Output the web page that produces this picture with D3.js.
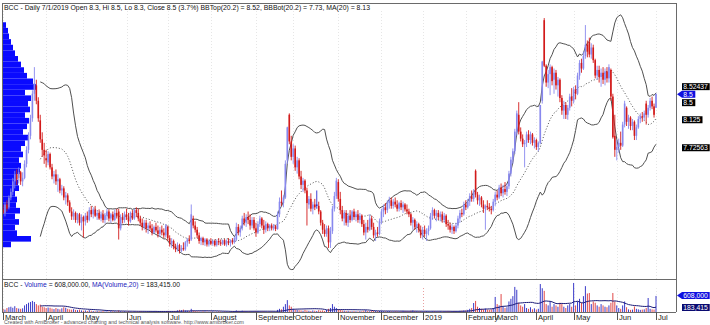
<!DOCTYPE html>
<html><head><meta charset="utf-8">
<script src="https://cdn.jsdelivr.net/npm/d3@7"></script>
<style>
body{margin:0;background:#fff}
svg{display:block}
text{font-family:Arial,"Liberation Sans",sans-serif}
</style>
</head><body>
<svg id="chart" width="710" height="325"></svg>
<script>
// ---------------- DATA ----------------
const openP = [6.85,6.80,6.92,6.88,7.02,7.10,7.25,7.35,7.30,7.38,7.25,7.30,7.50,7.70,7.90,8.15,8.50,8.62,8.40,8.12,
7.85,7.70,7.58,7.52,7.64,7.45,7.32,7.35,7.25,7.28,7.12,7.15,7.02,7.05,6.95,6.82,6.75,6.80,6.70,6.78,
6.66,6.74,6.68,6.76,6.70,6.84,6.78,6.85,6.76,6.80,6.72,6.78,6.70,6.76,6.82,6.72,6.78,6.70,6.80,6.82,
6.58,6.74,6.70,6.78,6.74,6.68,6.80,6.72,6.84,6.80,6.72,6.66,6.60,6.66,6.58,6.62,6.58,6.52,6.60,6.55,
6.50,6.56,6.52,6.48,6.60,6.44,6.36,6.40,6.32,6.28,6.34,6.26,6.30,6.28,6.38,6.42,6.42,6.72,6.62,6.56,
6.48,6.40,6.44,6.38,6.42,6.35,6.40,6.36,6.40,6.34,6.40,6.38,6.36,6.41,6.35,6.40,6.37,6.41,6.38,6.42,
6.60,6.52,6.58,6.72,6.66,6.74,6.70,6.62,6.70,6.58,6.52,6.64,6.72,6.62,6.56,6.64,6.58,6.62,6.58,6.61,
6.57,6.78,6.96,6.94,7.02,7.55,8.20,7.82,7.60,7.72,7.45,7.55,7.32,7.20,7.26,7.12,6.92,7.00,6.86,6.92,
6.92,6.90,6.82,6.66,6.56,6.50,6.58,6.38,6.54,6.86,7.04,7.24,7.00,6.84,6.72,6.80,6.66,6.76,6.70,6.82,
6.74,6.78,6.70,6.76,6.64,6.52,6.60,6.56,6.72,6.60,6.48,6.52,6.50,6.68,6.82,6.88,6.84,6.94,6.98,6.90,
6.96,6.92,6.86,6.94,6.88,6.92,6.85,6.82,6.78,6.66,6.70,6.60,6.64,6.56,6.48,6.56,6.50,6.54,6.58,6.76,
6.84,6.76,6.80,6.74,6.78,6.70,6.76,6.64,6.62,6.56,6.60,6.54,6.62,6.72,6.80,6.78,6.92,6.88,6.96,7.04,
7.00,7.40,7.06,6.98,7.02,6.92,6.86,6.90,6.88,6.86,6.84,6.96,7.06,7.02,7.16,7.08,7.14,7.10,7.18,7.36,
7.56,7.68,7.96,8.20,7.96,7.86,7.78,7.80,7.92,7.84,7.92,7.80,7.84,7.74,7.80,8.40,9.55,8.90,8.66,8.78,
8.88,8.70,8.80,8.62,8.70,8.44,8.26,8.34,8.20,8.30,8.46,8.40,8.56,8.50,8.76,8.94,8.86,9.04,9.20,9.24,
9.06,9.16,8.98,8.76,8.84,8.74,8.80,8.70,8.82,8.72,8.84,8.46,7.90,7.70,7.74,7.80,7.76,8.06,8.30,8.10,
8.16,8.04,8.10,7.90,8.02,8.14,8.18,8.16,8.36,8.20,8.30,8.40,8.32,8.30];
const highP = [6.92,6.95,6.98,7.05,7.15,7.30,7.40,7.42,7.45,7.40,7.38,7.55,7.75,7.95,8.20,8.55,8.88,8.70,8.45,8.20,
7.95,7.80,7.70,7.68,7.66,7.50,7.40,7.42,7.35,7.30,7.20,7.18,7.10,7.08,6.98,6.88,6.85,6.82,6.80,6.80,
6.78,6.76,6.80,6.82,6.88,6.90,6.88,6.90,6.84,6.85,6.82,6.84,6.80,6.86,6.85,6.80,6.82,6.85,6.86,6.86,
6.78,6.80,6.82,6.86,6.80,6.82,6.84,6.86,6.88,6.86,6.76,6.72,6.70,6.70,6.66,6.68,6.64,6.62,6.66,6.62,
6.60,6.62,6.58,6.64,6.62,6.48,6.44,6.42,6.36,6.38,6.36,6.34,6.38,6.40,6.44,6.48,6.92,6.76,6.68,6.60,
6.52,6.46,6.46,6.44,6.44,6.42,6.44,6.42,6.42,6.42,6.44,6.42,6.42,6.43,6.42,6.44,6.42,6.44,6.46,6.66,
6.64,6.62,6.76,6.80,6.78,6.82,6.78,6.74,6.74,6.66,6.68,6.76,6.74,6.70,6.68,6.66,6.64,6.65,6.64,6.63,
6.82,7.02,7.12,7.05,7.55,8.03,8.22,7.90,7.78,7.76,7.60,7.58,7.40,7.30,7.28,7.16,7.04,7.08,6.96,7.00,
7.12,6.96,6.84,6.70,6.64,6.62,6.62,6.60,6.90,7.10,7.30,7.28,7.10,6.90,6.84,6.84,6.80,6.84,6.84,6.86,
6.82,6.84,6.80,6.78,6.70,6.66,6.70,6.78,6.76,6.66,6.56,6.60,6.72,6.86,6.92,6.94,6.98,7.03,7.02,7.00,
7.02,6.98,6.96,6.98,6.96,6.94,6.92,6.86,6.80,6.74,6.72,6.68,6.66,6.62,6.60,6.62,6.58,6.62,6.80,6.88,
6.86,6.84,6.84,6.82,6.82,6.80,6.78,6.70,6.66,6.64,6.62,6.66,6.76,6.84,6.86,6.96,6.98,7.00,7.08,7.12,
7.14,7.42,7.10,7.06,7.04,6.98,6.92,6.98,6.94,6.90,7.00,7.10,7.12,7.20,7.22,7.20,7.24,7.22,7.40,7.60,
7.72,8.00,8.26,8.38,8.02,7.92,7.84,7.96,7.98,7.96,7.94,7.88,7.86,7.82,8.34,8.97,9.58,8.92,8.84,8.92,
8.90,8.86,8.84,8.74,8.72,8.48,8.40,8.38,8.34,8.50,8.58,8.60,8.62,8.80,8.98,9.00,9.10,9.48,9.26,9.30,
9.22,9.20,9.00,8.90,8.90,8.86,8.88,8.86,8.88,8.92,8.86,8.50,8.20,7.84,7.86,7.96,8.10,8.40,8.32,8.20,
8.18,8.14,8.12,8.06,8.18,8.22,8.24,8.26,8.40,8.34,8.44,8.46,8.36,8.50];
const lowP = [6.78,6.75,6.82,6.85,6.98,7.05,7.15,7.20,7.22,7.20,7.18,7.28,7.45,7.65,7.85,8.10,8.40,8.35,8.10,7.80,
7.60,7.50,7.45,7.48,7.42,7.28,7.22,7.20,7.10,7.08,7.05,6.98,6.92,6.90,6.80,6.70,6.70,6.66,6.65,6.62,
6.55,6.45,6.62,6.66,6.68,6.74,6.72,6.74,6.70,6.70,6.68,6.66,6.65,6.70,6.68,6.66,6.68,6.68,6.72,6.42,
6.55,6.65,6.66,6.70,6.62,6.66,6.70,6.70,6.74,6.68,6.62,6.55,6.56,6.52,6.50,6.55,6.48,6.50,6.52,6.45,
6.46,6.48,6.44,6.45,6.40,6.32,6.30,6.28,6.24,6.25,6.22,6.24,6.26,6.26,6.32,6.36,6.40,6.58,6.52,6.44,
6.36,6.34,6.34,6.33,6.32,6.32,6.34,6.33,6.32,6.32,6.34,6.33,6.34,6.33,6.32,6.34,6.32,6.35,6.36,6.40,
6.48,6.46,6.55,6.62,6.60,6.64,6.56,6.58,6.55,6.46,6.50,6.60,6.58,6.50,6.52,6.54,6.54,6.55,6.55,6.54,
6.56,6.74,6.90,6.88,7.00,7.50,7.78,7.55,7.50,7.40,7.36,7.28,7.14,7.10,7.08,6.62,6.86,6.82,6.78,6.84,
6.86,6.78,6.62,6.50,6.46,6.46,6.30,6.30,6.50,6.82,7.00,6.96,6.78,6.68,6.62,6.62,6.60,6.66,6.68,6.70,
6.68,6.66,6.65,6.60,6.48,6.42,6.52,6.54,6.56,6.44,6.40,6.46,6.48,6.64,6.74,6.78,6.80,6.86,6.86,6.86,
6.88,6.82,6.82,6.84,6.80,6.82,6.78,6.74,6.62,6.56,6.56,6.52,6.52,6.44,6.42,6.46,6.40,6.48,6.56,6.70,
6.72,6.68,6.70,6.68,6.66,6.66,6.60,6.56,6.52,6.50,6.50,6.52,6.58,6.66,6.74,6.76,6.84,6.86,6.90,6.96,
6.96,7.02,6.92,6.90,6.88,6.80,6.56,6.84,6.82,6.78,6.82,6.90,6.98,7.00,7.04,7.02,7.06,7.04,7.14,7.32,
7.50,7.64,7.90,7.92,7.82,7.74,7.45,7.74,7.80,7.78,7.76,7.72,7.70,7.68,7.78,8.36,8.88,8.60,8.58,8.48,
8.62,8.50,8.56,8.46,8.38,8.20,8.14,8.14,8.13,8.26,8.32,8.36,8.42,8.48,8.70,8.80,8.84,9.00,9.02,9.02,
9.00,8.94,8.72,8.70,8.66,8.60,8.64,8.62,8.66,8.66,8.40,7.86,7.60,7.55,7.66,7.70,7.74,8.02,8.04,8.00,
7.98,7.98,7.84,7.84,8.00,8.08,8.10,8.12,8.06,8.16,8.26,8.28,8.16,8.30];
const closeP = [6.80,6.92,6.86,7.02,7.10,7.25,7.35,7.28,7.38,7.25,7.30,7.50,7.70,7.90,8.15,8.50,8.65,8.40,8.15,7.85,
7.70,7.62,7.55,7.64,7.45,7.32,7.35,7.25,7.28,7.12,7.15,7.02,7.05,6.95,6.82,6.75,6.80,6.70,6.78,6.66,
6.74,6.68,6.76,6.70,6.84,6.78,6.85,6.76,6.80,6.72,6.78,6.70,6.76,6.82,6.72,6.78,6.70,6.80,6.76,6.58,
6.74,6.70,6.78,6.74,6.68,6.80,6.72,6.84,6.80,6.72,6.66,6.60,6.66,6.58,6.62,6.58,6.52,6.60,6.55,6.50,
6.56,6.52,6.48,6.62,6.44,6.36,6.40,6.32,6.28,6.34,6.26,6.30,6.28,6.38,6.42,6.40,6.78,6.62,6.56,6.48,
6.40,6.44,6.38,6.42,6.35,6.40,6.36,6.40,6.34,6.40,6.38,6.36,6.41,6.35,6.40,6.37,6.41,6.38,6.44,6.60,
6.52,6.58,6.72,6.66,6.74,6.70,6.62,6.70,6.58,6.52,6.64,6.72,6.62,6.56,6.64,6.58,6.62,6.58,6.61,6.57,
6.78,6.96,6.94,7.02,7.50,8.02,7.82,7.60,7.72,7.45,7.55,7.32,7.20,7.26,7.12,6.94,7.00,6.86,6.92,6.88,
6.90,6.82,6.66,6.56,6.50,6.58,6.38,6.54,6.86,7.04,7.26,7.00,6.84,6.72,6.80,6.66,6.76,6.70,6.82,6.74,
6.78,6.70,6.76,6.64,6.52,6.60,6.56,6.72,6.60,6.48,6.52,6.50,6.68,6.82,6.88,6.84,6.94,6.98,6.90,6.96,
6.92,6.86,6.94,6.88,6.92,6.85,6.82,6.78,6.66,6.70,6.60,6.64,6.56,6.48,6.56,6.50,6.54,6.58,6.76,6.84,
6.76,6.80,6.74,6.78,6.70,6.76,6.64,6.62,6.56,6.60,6.54,6.62,6.72,6.80,6.78,6.92,6.88,6.96,7.04,7.00,
7.10,7.06,6.98,7.02,6.92,6.86,6.90,6.88,6.86,6.84,6.96,7.06,7.02,7.16,7.08,7.14,7.10,7.18,7.36,7.56,
7.68,7.96,8.22,7.96,7.86,7.78,7.80,7.92,7.84,7.92,7.80,7.84,7.74,7.80,8.34,8.96,8.90,8.66,8.78,8.88,
8.68,8.80,8.62,8.70,8.44,8.26,8.34,8.20,8.30,8.46,8.40,8.56,8.50,8.76,8.94,8.86,9.04,9.20,9.10,9.06,
9.16,8.98,8.76,8.84,8.74,8.80,8.70,8.82,8.72,8.88,8.46,7.88,7.70,7.74,7.80,7.76,8.06,8.36,8.10,8.16,
8.04,8.10,7.90,8.02,8.14,8.18,8.16,8.22,8.20,8.30,8.40,8.32,8.20,8.50];
// volume in thousands of shares
const volumeK = [120,90,150,180,200,160,220,150,130,120,140,250,300,350,380,420,380,300,250,280,
200,180,150,170,160,130,110,150,120,100,140,180,160,120,100,90,110,80,70,90,
60,50,60,40,70,50,40,30,45,35,30,40,25,30,20,35,30,25,20,60,
30,20,25,15,30,20,15,25,20,15,30,25,20,15,20,25,15,20,30,20,
15,25,20,15,40,30,20,25,30,60,80,70,90,60,50,40,120,60,40,30,
25,20,30,25,20,15,20,25,15,20,30,20,15,25,20,15,20,25,30,60,
40,30,50,40,30,25,30,20,25,35,30,20,25,30,20,15,20,25,20,15,
80,120,100,200,300,450,250,200,120,90,80,70,60,50,80,60,50,40,60,50,
40,70,50,60,40,80,120,150,300,200,150,100,80,60,50,40,45,35,30,40,
30,25,35,30,50,70,40,30,60,40,35,30,40,45,30,25,30,35,25,20,
30,25,20,30,40,35,30,25,50,60,40,30,25,30,20,25,30,20,15,25,
30,20,25,30,20,25,30,35,30,25,40,35,30,45,50,60,60,80,120,150,
340,420,200,150,120,100,130,90,80,100,150,570,300,250,680,200,150,180,400,500,
600,950,840,350,250,200,300,150,120,180,100,140,90,120,1060,900,800,300,250,400,
200,300,250,200,350,300,200,150,250,300,200,1100,250,400,500,350,600,980,700,720,
300,400,350,250,200,300,250,200,180,250,350,720,400,250,150,120,250,400,180,100,
80,90,210,120,100,80,90,100,150,530,120,100,90,608];
// month axis
const monthLabels = ["March","April","May","Jun","Jul","August","September","October","November","December","2019","February","March","April","May","Jun","Jul"];
const monthIndex = [0,22,41,63,84,106,129,148,171,193,214,236,251,272,291,313,333];
// volume-at-price overlay (relative volume per price row, top row = highest price)
const vapVolume = [3,5,6,8,10,12,15,18,21,24,30,33,22,28,25,27,22,26,24,20,
25,22,18,20,16,18,17,14,15,16,12,14,13,17,12,16,12,14,28,8];
const vapRange = [9.52, 6.31];
// right-axis value labels (shift = offset applied to avoid overlaps, as the original does)
const priceLabels = [
  {text:"8.52437", value:8.52437, shift:-5.4, color:"#000"},
  {text:"8.5", value:8.5, shift:0.5, color:"#1010e0", arrow:true},
  {text:"8.5", value:8.5, shift:8.9, color:"#000"},
  {text:"8.125", value:8.125, shift:-0.3, color:"#000"},
  {text:"7.72563", value:7.72563, shift:-0.3, color:"#000"}
];
const volLabels = [
  {text:"608,000", value:608, color:"#1010e0", arrow:true},
  {text:"183,415", value:183.415, color:"#0a0a70"}
];
const titleMain = "BCC - Daily 7/1/2019 Open 8.3, Hi 8.5, Lo 8.3, Close 8.5 (3.7%) BBTop(20.2) = 8.52, BBBot(20.2) = 7.73, MA(20) = 8.13";
const footer = "Created with AmiBroker - advanced charting and technical analysis software. http://www.amibroker.com";

// ---------------- LAYOUT ----------------
const svg = d3.select("#chart");
const L = 2, R = 676, T = 3, MB = 279, VB = 312;
const N = closeP.length;
const x = d3.scaleLinear().domain([0, N - 1]).range([3, 656]);
const y = d3.scaleLinear().domain([5.857, 9.795]).range([MB, T]);
const yv = d3.scaleLinear().domain([0, 1250]).range([VB, MB]);

// indicators
function sma(a, n) { return a.map((_, i) => i < n - 1 ? null : d3.mean(a.slice(i - n + 1, i + 1))); }
function sdp(a, n) { return a.map((_, i) => { if (i < n - 1) return null; const s = a.slice(i - n + 1, i + 1); const m = d3.mean(s); return Math.sqrt(d3.mean(s, v => (v - m) * (v - m))); }); }
const ma = sma(closeP, 20), sd = sdp(closeP, 20);
const bbTop = ma.map((m, i) => m == null ? null : m + 2 * sd[i]);
const bbBot = ma.map((m, i) => m == null ? null : m - 2 * sd[i]);
const vma = sma(volumeK, 20);
const idx = d3.range(N);

svg.append("rect").attr("width", 710).attr("height", 325).attr("fill", "#fff");

// grid lines at month starts
const grid = svg.append("g");
monthIndex.forEach((mi, k) => {
  const gx = Math.round(x(mi)) + 0.5;
  grid.append("line").attr("x1", gx).attr("x2", gx).attr("y1", T + 8).attr("y2", MB)
    .attr("stroke", "#e6e6e6").attr("stroke-dasharray", "1,2");
  grid.append("line").attr("x1", gx).attr("x2", gx).attr("y1", MB + 9).attr("y2", VB)
    .attr("stroke", monthLabels[k] === "2019" ? "#e8a0a0" : "#eaeaea").attr("stroke-dasharray", "1,2");
});

// volume at price overlay
const vapBins = vapVolume.length;
const vapStep = (vapRange[0] - vapRange[1]) / vapBins;
const wv = d3.scaleLinear().domain([0, d3.max(vapVolume)]).range([0, 33]);
svg.append("g").selectAll("rect").data(vapVolume).join("rect")
  .attr("x", 3)
  .attr("y", (d, i) => y(vapRange[0] - i * vapStep))
  .attr("width", d => wv(d))
  .attr("height", (d, i) => y(vapRange[0] - (i + 1) * vapStep) - y(vapRange[0] - i * vapStep))
  .attr("fill", "#0a0aff");

// bands and MA
const line = d3.line().defined(d => d[1] != null).x(d => x(d[0])).y(d => y(d[1]));
svg.append("path").attr("d", line(bbTop.map((v, i) => [i, v]))).attr("fill", "none").attr("stroke", "#505050").attr("stroke-width", 1);
svg.append("path").attr("d", line(bbBot.map((v, i) => [i, v]))).attr("fill", "none").attr("stroke", "#505050").attr("stroke-width", 1);
svg.append("path").attr("d", line(ma.map((v, i) => [i, v]))).attr("fill", "none").attr("stroke", "#505050").attr("stroke-width", 1).attr("stroke-dasharray", "1,2");

// candles: hue by close vs previous close, hollow (light) when close >= open
const isUp = i => i === 0 ? closeP[i] >= openP[i] : closeP[i] >= closeP[i - 1];
const hollow = i => closeP[i] >= openP[i];
const cColor = i => isUp(i) ? (hollow(i) ? "#8888ee" : "#2a2ad0") : (hollow(i) ? "#f09a9a" : "#d21a1a");
const cg = svg.append("g");
cg.selectAll("line").data(idx).join("line")
  .attr("x1", i => x(i)).attr("x2", i => x(i))
  .attr("y1", i => y(highP[i])).attr("y2", i => y(lowP[i]))
  .attr("stroke", cColor).attr("stroke-width", 0.9);
cg.selectAll("rect").data(idx).join("rect")
  .attr("x", i => x(i) - 0.8).attr("width", 1.6)
  .attr("y", i => y(Math.max(openP[i], closeP[i])))
  .attr("height", i => Math.max(0.8, Math.abs(y(openP[i]) - y(closeP[i]))))
  .attr("fill", cColor);

// volume bars
const vg = svg.append("g");
vg.selectAll("line").data(idx).join("line")
  .attr("x1", i => x(i)).attr("x2", i => x(i))
  .attr("y1", yv(0)).attr("y2", i => yv(volumeK[i]))
  .attr("stroke", i => isUp(i) ? "#3a3ac8" : "#e04848").attr("stroke-width", 1);
svg.append("path").attr("d", d3.line().defined(d => d[1] != null).x(d => x(d[0])).y(d => yv(d[1]))(vma.map((v, i) => [i, v])))
  .attr("fill", "none").attr("stroke", "#1a1a78").attr("stroke-width", 1);

// frame
const fr = svg.append("g").attr("stroke", "#6a6a6a").attr("stroke-width", 1).attr("shape-rendering", "crispEdges");
fr.append("line").attr("x1", L).attr("x2", R).attr("y1", T).attr("y2", T);
fr.append("line").attr("x1", L).attr("x2", L).attr("y1", T).attr("y2", VB);
fr.append("line").attr("x1", R).attr("x2", R).attr("y1", T).attr("y2", VB);
fr.append("line").attr("x1", L).attr("x2", R).attr("y1", MB).attr("y2", MB);
fr.append("line").attr("x1", L).attr("x2", R).attr("y1", VB).attr("y2", VB);

// month axis
const ax = svg.append("g");
monthIndex.forEach((mi, k) => {
  const tx = Math.round(x(mi)) + 0.5;
  ax.append("line").attr("x1", tx).attr("x2", tx).attr("y1", VB).attr("y2", VB + 8).attr("stroke", "#555");
  ax.append("text").attr("x", tx + 1.5).attr("y", VB + 7.6).attr("font-size", 7.6).attr("fill", "#222").text(monthLabels[k]);
});

// titles
svg.append("text").attr("x", 4).attr("y", 9.5).attr("font-size", 7).attr("fill", "#111")
  .attr("textLength", 366).attr("lengthAdjust", "spacingAndGlyphs").text(titleMain);
const vt = svg.append("text").attr("x", 4).attr("y", 287).attr("font-size", 7).attr("fill", "#111")
  .attr("textLength", 176).attr("lengthAdjust", "spacingAndGlyphs");
vt.append("tspan").text("BCC - ");
vt.append("tspan").attr("fill", "#2222bb").text("Volume");
vt.append("tspan").text(" = 608,000.00, ");
vt.append("tspan").attr("fill", "#2222bb").text("MA(Volume,20)");
vt.append("tspan").text(" = 183,415.00");
svg.append("text").attr("x", 4).attr("y", 324.2).attr("font-size", 4.8).attr("fill", "#555")
  .attr("textLength", 240).attr("lengthAdjust", "spacingAndGlyphs").text(footer);

// right labels
function label(g, cy, text, color, arrow) {
  const w = text.length * 3.6 + 2.5;
  const x0 = 682, h = 3.5;
  if (arrow) {
    g.append("path").attr("d", `M${R + 1},${cy} L${x0},${cy - h} L${x0 + w},${cy - h} L${x0 + w},${cy + h} L${x0},${cy + h} Z`).attr("fill", color);
  } else {
    g.append("rect").attr("x", x0).attr("y", cy - h).attr("width", w).attr("height", 2 * h).attr("fill", color);
  }
  g.append("text").attr("x", x0 + 1.3).attr("y", cy + 2.4).attr("font-size", 6.8).attr("fill", "#fff").text(text);
}
const lg = svg.append("g");
priceLabels.forEach(p => label(lg, y(p.value) + p.shift, p.text, p.color, p.arrow));
label(lg, yv(volLabels[0].value) - 0.5, volLabels[0].text, volLabels[0].color, true);
label(lg, 307.5, volLabels[1].text, volLabels[1].color, false);
</script>
</body></html>
